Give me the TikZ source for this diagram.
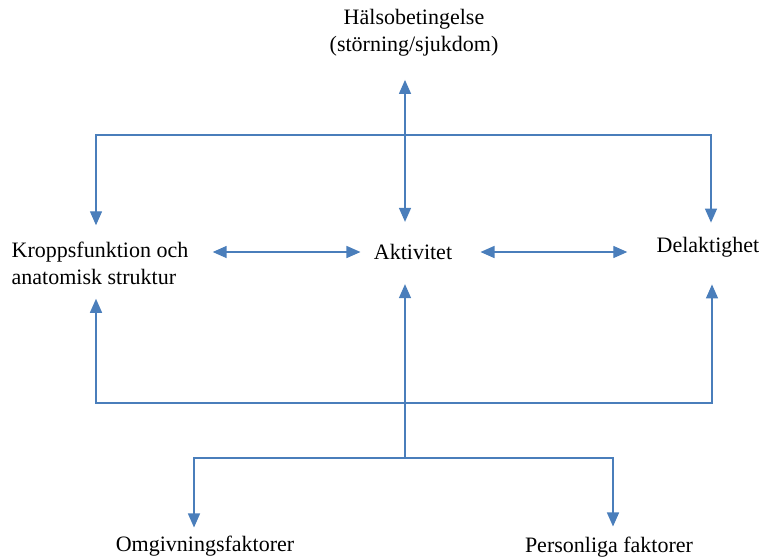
\documentclass[tikz,border=0pt]{standalone}
\usepackage{fontspec}
\setmainfont{Liberation Serif}
\usetikzlibrary{arrows.meta}
\definecolor{linkblue}{RGB}{74,126,187}

\begin{document}
\begin{tikzpicture}[x=0.5pt,y=-0.5pt,
  lbl/.style={inner sep=0pt, font=\fontsize{11}{13.5}\selectfont},
  link/.style={draw=linkblue, line width=0.7pt, >={Triangle[length=7pt,width=6pt]}}]
\useasboundingbox (0,0) rectangle (765,559);
% text boxes
\node[lbl, align=center] (hals) at (414,33) {Hälsobetingelse\\(störning/sjukdom)};
\node[lbl, align=left] (kropp) at (100,263) {Kroppsfunktion och\\anatomisk struktur};
\node[lbl] (akt) at (413,252) {Aktivitet};
\node[lbl] (del) at (708,247) {Delaktighet};
\node[lbl] (omg) at (205,546) {Omgivningsfaktorer};
\node[lbl] (pers) at (609,547) {Personliga faktorer};
% corners and forks
\coordinate (tl) at (96,135);
\coordinate (tm) at (405,135);
\coordinate (tr) at (711,135);
\coordinate (bm) at (405,403);
\coordinate (bl) at (96,403);
\coordinate (br) at (712,403);
\coordinate (fork) at (405,458);
\coordinate (fl) at (194,458);
\coordinate (fr) at (613,458);
% top
\draw[link,<->,shorten <=11.5pt,shorten >=11pt] (hals.south -| tm) -- (akt.north -| tm);
\draw[link,<->] ([yshift=8pt]kropp.north -| tl) |- (tm) -| ([yshift=7pt]del.north -| tr);
% middle row
\draw[link,<->,shorten <=12pt,shorten >=6.5pt] (kropp.east |- akt.west) -- (akt.west);
\draw[link,<->,shorten <=14pt,shorten >=14.5pt] (akt.east) -- (del.west |- akt.east);
% bottom
\draw[link,<->] ([yshift=-7pt]kropp.south -| bl) |- (bm) -| ([yshift=-13.5pt]del.south -| br);
\draw[link,->,shorten >=12pt] (fork) -- (akt.south -| fork);
\draw[link,<->] ([yshift=4pt]omg.north -| fl) |- (fork) -| ([yshift=5pt]pers.north -| fr);
\end{tikzpicture}
\end{document}
